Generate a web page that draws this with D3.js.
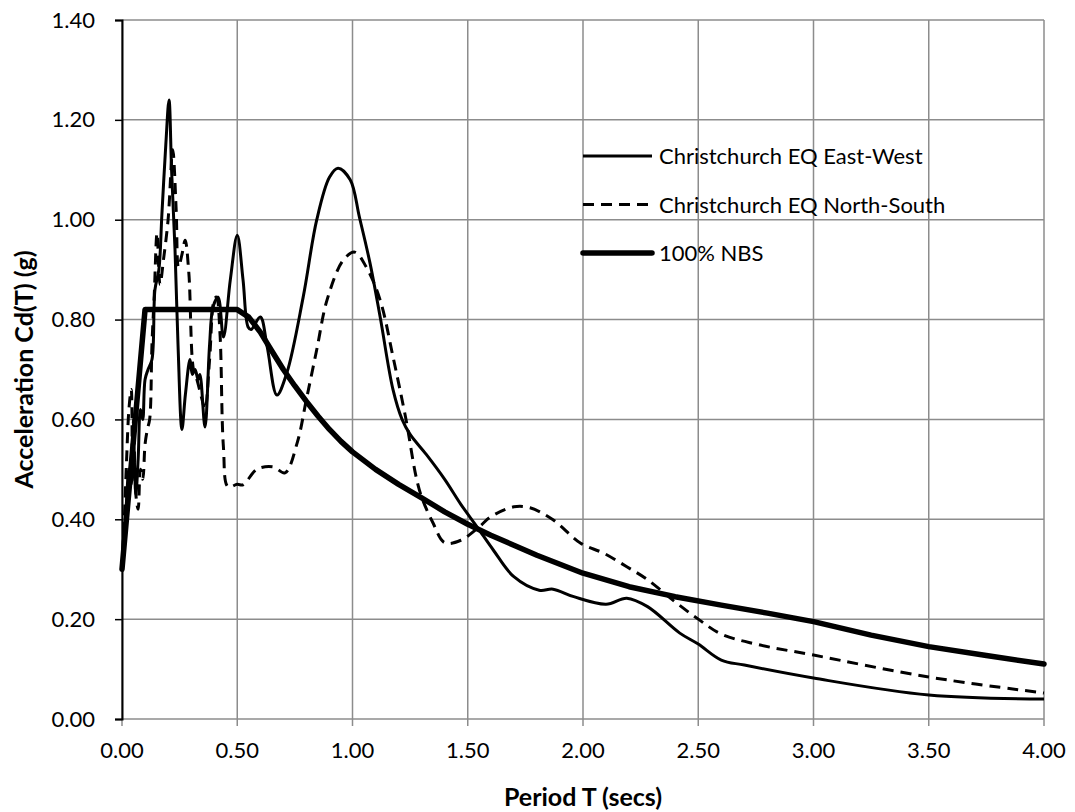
<!DOCTYPE html>
<html>
<head>
<meta charset="utf-8">
<script src="https://cdn.jsdelivr.net/npm/d3@7"></script>
<style>
  body { margin: 0; background: #fff; }
  svg { font-family: Lato, "Open Sans", sans-serif; }
  .grid line { stroke: #8c8c8c; stroke-width: 1.5; }
</style>
</head>
<body>
<svg id="chart" width="1075" height="812"></svg>
<script>
// period T (secs), acceleration Cd(T) (g)
const eastWest = [
  [0, 0.30], [0.01, 0.36], [0.02, 0.44], [0.03, 0.50], [0.04, 0.47], [0.05, 0.55], [0.06, 0.45],
  [0.07, 0.52], [0.08, 0.62], [0.09, 0.60], [0.10, 0.68], [0.113, 0.70], [0.13, 0.72], [0.143, 0.86],
  [0.16, 0.90], [0.173, 1.01], [0.19, 1.15], [0.204, 1.24], [0.215, 1.10], [0.23, 0.94], [0.243, 0.75],
  [0.26, 0.58], [0.275, 0.65], [0.295, 0.72], [0.305, 0.69], [0.317, 0.70], [0.33, 0.68], [0.338, 0.69],
  [0.36, 0.585], [0.38, 0.75], [0.395, 0.825], [0.417, 0.845], [0.44, 0.765], [0.47, 0.88], [0.50, 0.969],
  [0.525, 0.88], [0.547, 0.785], [0.56, 0.78], [0.60, 0.805], [0.63, 0.745], [0.672, 0.649], [0.715, 0.693],
  [0.786, 0.845], [0.845, 1.0], [0.90, 1.085], [0.937, 1.103], [0.99, 1.08], [1.03, 1.005], [1.076, 0.913],
  [1.12, 0.805], [1.176, 0.659], [1.215, 0.60], [1.25, 0.57], [1.32, 0.53], [1.40, 0.48], [1.47, 0.43],
  [1.54, 0.385], [1.61, 0.339], [1.70, 0.285], [1.81, 0.258], [1.87, 0.26], [1.96, 0.245], [2.10, 0.23],
  [2.19, 0.242], [2.28, 0.225], [2.42, 0.172], [2.5, 0.15], [2.6, 0.118], [2.7, 0.108], [3.0, 0.082],
  [3.5, 0.048], [4.0, 0.04]
]

const northSouth = [
  [0, 0.30], [0.01, 0.40], [0.02, 0.52], [0.03, 0.62], [0.04, 0.66], [0.045, 0.50], [0.05, 0.60],
  [0.06, 0.45], [0.07, 0.42], [0.08, 0.50], [0.09, 0.48], [0.10, 0.55], [0.11, 0.58], [0.12, 0.60],
  [0.13, 0.75], [0.14, 0.85], [0.152, 0.973], [0.165, 0.87], [0.18, 0.92], [0.20, 1.0], [0.22, 1.14],
  [0.235, 1.02], [0.245, 0.905], [0.26, 0.93], [0.274, 0.959], [0.29, 0.893], [0.31, 0.70], [0.325, 0.68],
  [0.347, 0.64], [0.36, 0.62], [0.38, 0.72], [0.40, 0.84], [0.41, 0.845], [0.425, 0.773], [0.44, 0.545],
  [0.46, 0.465], [0.50, 0.47], [0.525, 0.469], [0.585, 0.50], [0.655, 0.505], [0.707, 0.493], [0.76, 0.553],
  [0.80, 0.64], [0.845, 0.74], [0.89, 0.84], [0.96, 0.919], [1.01, 0.935], [1.06, 0.905], [1.12, 0.839],
  [1.176, 0.725], [1.23, 0.605], [1.29, 0.459], [1.35, 0.392], [1.40, 0.353], [1.47, 0.358], [1.55, 0.385],
  [1.60, 0.405], [1.70, 0.425], [1.77, 0.423], [1.87, 0.399], [1.99, 0.352], [2.09, 0.332], [2.19, 0.305],
  [2.28, 0.279], [2.39, 0.238], [2.5, 0.20], [2.6, 0.17], [2.75, 0.15], [3.0, 0.128], [3.5, 0.084],
  [4.0, 0.052]
]

const nbs = [
  [0, 0.30], [0.1, 0.82], [0.5, 0.82], [0.55, 0.805], [0.6, 0.775], [0.65, 0.737], [0.7, 0.700],
  [0.75, 0.667], [0.8, 0.636], [0.85, 0.607], [0.9, 0.580], [0.95, 0.556], [1.0, 0.535], [1.1, 0.500],
  [1.2, 0.470], [1.3, 0.443], [1.4, 0.415], [1.5, 0.390], [1.6, 0.368], [1.7, 0.348], [1.8, 0.328],
  [1.9, 0.310], [2.0, 0.292], [2.2, 0.265], [2.4, 0.245], [2.6, 0.228], [2.8, 0.212], [3.0, 0.195],
  [3.25, 0.168], [3.5, 0.145], [3.75, 0.127], [4.0, 0.110]
]

const seriesNames = ['Christchurch EQ East-West', 'Christchurch EQ North-South', '100% NBS']
const xTicks = [0, 0.5, 1, 1.5, 2, 2.5, 3, 3.5, 4]
const yTicks = [0, 0.2, 0.4, 0.6, 0.8, 1.0, 1.2, 1.4]

const svg = d3.select('#chart')
const margin = {top: 20, right: 31, bottom: 93, left: 122}
const width = 1075 - margin.left - margin.right
const height = 812 - margin.top - margin.bottom

const g = svg.append('g')
    .attr('transform', `translate(${margin.left},${margin.top})`)

const x = d3.scaleLinear().domain([0, 4]).range([0, width])
const y = d3.scaleLinear().domain([0, 1.4]).range([height, 0])

// gridlines
g.append('g').attr('class', 'grid')
    .selectAll('line').data(xTicks).enter().append('line')
    .attr('x1', d => x(d)).attr('x2', d => x(d))
    .attr('y1', 0).attr('y2', height + 7)

g.append('g').attr('class', 'grid')
    .selectAll('line').data(yTicks).enter().append('line')
    .attr('x1', 0).attr('x2', width)
    .attr('y1', d => y(d)).attr('y2', d => y(d))

// tick labels
g.append('g').selectAll('text').data(xTicks).enter().append('text')
    .attr('x', d => x(d))
    .attr('y', height + 39)
    .attr('text-anchor', 'middle')
    .attr('font-size', 22)
    .text(d => d.toFixed(2))

const yAxis = d3.axisLeft(y).tickValues(yTicks).tickSize(7).tickFormat(d3.format('.2f'))
const ya = g.append('g').call(yAxis)
ya.select('.domain').attr('stroke', '#000').attr('stroke-width', 2)
ya.selectAll('.tick line').attr('stroke', '#000').attr('stroke-width', 1.5)
ya.selectAll('.tick text')
    .attr('font-size', 22)
    .attr('font-family', 'Lato, sans-serif')
    .attr('fill', '#000')
    .attr('x', -27)

// axis titles
svg.append('text')
    .attr('x', margin.left + width / 2)
    .attr('y', 806)
    .attr('text-anchor', 'middle')
    .attr('font-size', 25)
    .attr('font-weight', 'bold')
    .text('Period T (secs)')

svg.append('text')
    .attr('transform', `translate(33, ${margin.top + height / 2}) rotate(-90)`)
    .attr('text-anchor', 'middle')
    .attr('font-size', 25)
    .attr('font-weight', 'bold')
    .text('Acceleration Cd(T) (g)')

// series
const smooth = d3.line().x(d => x(d[0])).y(d => y(d[1])).curve(d3.curveCatmullRom.alpha(0.5))

const styles = [
    {width: 3, dash: null},
    {width: 3, dash: '11,7'},
    {width: 5.5, dash: null}
]

g.append('path').datum(eastWest)
    .attr('d', smooth).attr('fill', 'none').attr('stroke', '#000')
    .attr('stroke-width', styles[0].width)

g.append('path').datum(northSouth)
    .attr('d', smooth).attr('fill', 'none').attr('stroke', '#000')
    .attr('stroke-width', styles[1].width).attr('stroke-dasharray', styles[1].dash)

g.append('path').datum(nbs)
    .attr('d', d3.line().x(d => x(d[0])).y(d => y(d[1])))
    .attr('fill', 'none').attr('stroke', '#000')
    .attr('stroke-width', styles[2].width).attr('stroke-linejoin', 'round').attr('stroke-linecap', 'round')

// legend
const legend = svg.append('g').attr('transform', 'translate(583, 156)')
seriesNames.forEach((name, i) => {
    const row = legend.append('g').attr('transform', `translate(0, ${i * 48.5})`)
    row.append('line')
        .attr('x1', 0).attr('x2', 69).attr('y1', 0).attr('y2', 0)
        .attr('stroke', '#000')
        .attr('stroke-width', styles[i].width)
        .attr('stroke-dasharray', styles[i].dash)
        .attr('stroke-linecap', i === 2 ? 'round' : 'butt')
    row.append('text')
        .attr('x', 76).attr('y', 8)
        .attr('font-size', 22)
        .text(name)
})
</script>
</body>
</html>
